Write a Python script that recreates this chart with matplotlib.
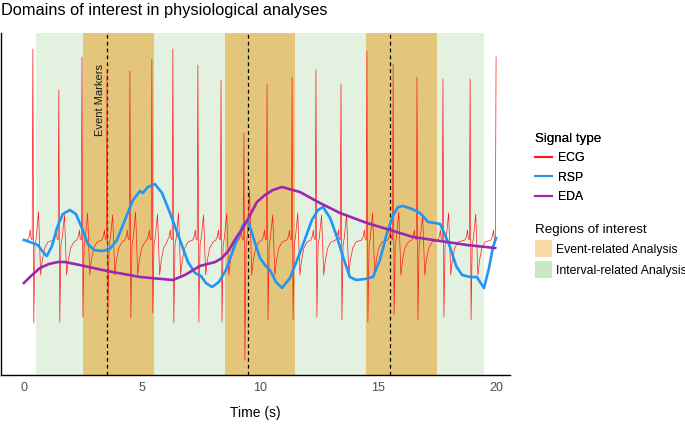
import numpy as np
import matplotlib.pyplot as plt
from matplotlib.lines import Line2D
from matplotlib.patches import Patch

plt.rcParams["font.family"] = ["Liberation Sans", "DejaVu Sans"]

# ---- data ----
# ECG: R-peak times, R heights, S depths, mid-wave heights
ecg_beats = [0.38, 1.48, 2.46, 3.52, 4.49, 5.42, 6.31, 7.37, 8.35, 9.32,
             10.30, 11.36, 12.37, 13.43, 14.53, 15.64, 16.65, 17.75, 18.90, 20.0]
ecg_r = [3.82, 3.00, 3.66, 3.40, 3.38, 3.62, 3.82, 3.50, 3.20, 2.14,
         3.12, 3.26, 3.40, 3.12, 3.78, 3.52, 3.26, 3.22, 3.22, 3.66]
ecg_s = [-1.66, -1.64, -1.54, -1.54, -1.56, -1.46, -1.66, -1.64, -1.64, -2.40,
         -1.60, -1.60, -1.54, -1.60, -1.64, -1.50, -1.60, -1.54, -1.60, -1.50]
ecg_mid = [0.56, 0.50, 0.54, 0.50, 0.56, 0.52, 0.54, 0.50, 0.52, 1.00,
           0.50, 0.54, 0.50, 0.52, 0.54, 0.56, 0.50, 0.54, 0.52, 0.50]
# one beat shape: offset (s) and level; R, S, mid are filled per beat
beat_dt = [-0.22, -0.15, -0.11, -0.08, -0.03, 0.0, 0.04, 0.09, 0.14, 0.24,
           0.33, 0.40, 0.50, 0.64]
beat_y = [0.0, 0.08, 0.20, 0.04, 0.0, None, None, -0.10, 0.04, "mid",
          -0.70, -0.40, -0.16, -0.04]

rsp_t = [0.0, 0.25, 0.59, 0.81, 0.97, 1.19, 1.40, 1.65, 1.95, 2.20, 2.46, 2.71,
         2.97, 3.31, 3.64, 3.94, 4.28, 4.62, 4.92, 5.04, 5.25, 5.55, 5.85, 6.19,
         6.61, 6.95, 7.25, 7.50, 7.71, 7.97, 8.26, 8.56, 8.94, 9.28, 9.49, 9.75,
         10.0, 10.21, 10.42, 10.68, 10.93, 11.27, 11.69, 12.20, 12.46, 12.67,
         12.97, 13.26, 13.56, 13.81, 14.07, 14.45, 14.79, 15.08, 15.38, 15.64,
         15.85, 16.06, 16.44, 16.78, 17.12, 17.42, 17.63, 17.84, 18.05, 18.31,
         18.56, 18.90, 19.19, 19.32, 19.49, 19.70, 19.87, 20.0]
rsp_px = [240, 242, 245, 252, 256, 246, 228, 214, 210, 214, 228, 244,
          250, 251, 249, 240, 220, 200, 191, 193, 187, 184, 193, 213,
          240, 262, 273, 276, 283, 287, 282, 270, 245, 225, 220, 240,
          258, 265, 270, 282, 288, 278, 253, 220, 210, 207,
          218, 237, 260, 277, 280, 279, 277, 260, 233, 215,
          207, 206, 209, 213, 222, 223, 224, 235, 247, 266,
          275, 277, 277, 282, 288, 268, 247, 238]

eda_t = [0.0, 0.30, 0.68, 1.06, 1.44, 1.74, 2.37, 3.52, 4.92, 6.31, 6.82,
         7.46, 8.10, 8.39, 8.69, 8.98, 9.28, 9.58, 9.87, 10.21, 10.55, 10.93,
         11.69, 12.54, 13.39, 14.53, 15.51, 16.48, 17.63, 18.77, 19.96]
eda_px = [283, 276, 268, 264, 262, 262, 265, 271, 277, 280, 275,
          266, 262, 258, 250, 238, 228, 215, 202, 195, 190, 187,
          192, 203, 213, 223, 230, 237, 241, 245, 248]

event_regions = [(2.5, 5.5), (8.5, 11.5), (14.5, 17.5)]
interval_region = (0.5, 19.5)
event_markers = [3.5, 9.5, 15.5]
xticks = [0, 5, 10, 15, 20]

ECG_COL, RSP_COL, EDA_COL = "#FF1A1A", "#2196F3", "#9C27B0"
EVENT_COL, INTERVAL_COL = "#E4C67A", "#E3F1E1"


def px2y(v):
    # pixel rows of the reference -> signal units (baseline 240)
    return (240 - np.asarray(v, dtype=float)) / 50.0


# assemble ECG trace from the per-beat values
ecg_x, ecg_y = [0.0], [0.0]
for t0, r, s, m in zip(ecg_beats, ecg_r, ecg_s, ecg_mid):
    for dt, lv in zip(beat_dt, beat_y):
        t = t0 + dt
        if t < 0 or t > 20:
            continue
        if dt == 0.0:
            lv = r
        elif lv is None:
            lv = s
        elif lv == "mid":
            lv = m
        ecg_x.append(t)
        ecg_y.append(lv)

fig = plt.figure(figsize=(6.85, 4.24), dpi=100)
ax = fig.add_axes([1 / 685, 1 - 375 / 424, 509 / 685, (375 - 33) / 424])

ax.axvspan(*interval_region, color=INTERVAL_COL, lw=0, zorder=0)
for a, b in event_regions:
    ax.axvspan(a, b, color=EVENT_COL, lw=0, zorder=1)
for xm in event_markers:
    ax.axvline(xm, color="black", ls=(0, (3, 2.5)), lw=0.9, zorder=2)

ax.plot(ecg_x, ecg_y, color=ECG_COL, lw=0.5, zorder=3)
ax.plot(rsp_t, px2y(rsp_px), color=RSP_COL, lw=1.9, zorder=4)
ax.plot(eda_t, px2y(eda_px), color=EDA_COL, lw=1.9, zorder=5)

ax.text(3.23, px2y(100), "Event Markers", rotation=90, ha="center",
        va="center", fontsize=8, color="#1a1a1a", zorder=6)

ax.set_xlim(-0.97, 20.59)
ax.set_ylim(px2y(375), px2y(33))
ax.set_xticks(xticks)
ax.set_xticklabels([str(v) for v in xticks])
ax.set_yticks([])
ax.tick_params(axis="x", length=0, pad=5, labelsize=9, labelcolor="#4D4D4D")
for sp in ("top", "right"):
    ax.spines[sp].set_visible(False)
for sp in ("left", "bottom"):
    ax.spines[sp].set_linewidth(1.0)
ax.set_xlabel("Time (s)", fontsize=10, labelpad=9)

fig.text(1 / 685, 1 - 10 / 424, "Domains of interest in physiological analyses",
         fontsize=11.8, ha="left", va="center")

sig_handles = [Line2D([], [], color=c, lw=1.5) for c in (ECG_COL, RSP_COL, EDA_COL)]
leg1 = fig.legend(sig_handles, ["ECG", "RSP", "EDA"], title="Signal type",
                  loc="upper left", bbox_to_anchor=(535 / 685, 1 - 133 / 424),
                  frameon=False, fontsize=8.8, title_fontsize=9.6, alignment="left",
                  handlelength=1.4, handletextpad=0.5, labelspacing=0.6,
                  borderpad=0, borderaxespad=0)
reg_handles = [Patch(color="#F8D9A8", lw=0), Patch(color="#C9E6C9", lw=0)]
leg2 = fig.legend(reg_handles, ["Event-related Analysis", "Interval-related Analysis"],
                  title="Regions of interest", loc="upper left",
                  bbox_to_anchor=(535 / 685, 1 - 224 / 424), frameon=False,
                  fontsize=8.8, title_fontsize=9.6, alignment="left",
                  handlelength=1.35, handleheight=1.75, handletextpad=0.35,
                  labelspacing=0.35, borderpad=0, borderaxespad=0)
fig.add_artist(leg1)

fig.savefig("out.png", dpi=100)
